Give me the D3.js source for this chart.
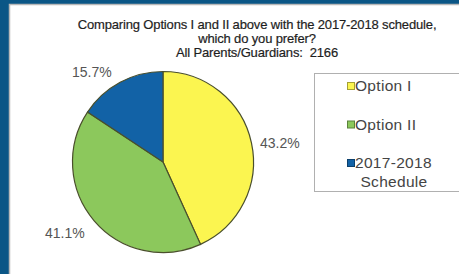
<!DOCTYPE html>
<html>
<head>
<meta charset="utf-8">
<script src="https://cdn.jsdelivr.net/npm/d3@7"></script>
<style>
  body { margin: 0; background: #0b5686; }
  svg { display: block; }
  text { white-space: pre; }
</style>
</head>
<body>
<div id="chart"></div>
<script>
// chart data
var categories = ["Option I", "Option II", "2017-2018 Schedule"];
var legendLines = [["Option I"], ["Option II"], ["2017-2018", "Schedule"]];
var values = [43.2, 41.1, 15.7];
var sliceLabels = ["43.2%", "41.1%", "15.7%"];
var colours = ["#fbf550", "#8cc85c", "#1262a6"];
var titleLines = [
  "Comparing Options I and II above with the 2017-2018 schedule,",
  "which do you prefer?",
  "All Parents/Guardians:  2166"
];

var width = 459, height = 274;

var svg = d3.select("#chart").append("svg")
  .attr("width", width)
  .attr("height", height);

// white chart panel inside the dark blue frame
svg.append("rect")
  .attr("x", 0).attr("y", 0)
  .attr("width", width).attr("height", height)
  .attr("fill", "#0b5686");
svg.append("rect")
  .attr("x", 9.5).attr("y", 4.5)
  .attr("width", width).attr("height", height)
  .attr("fill", "#ffffff")
  .attr("stroke", "#b8b8b8")
  .attr("stroke-width", 1.5);

// title
svg.append("g")
  .selectAll("text")
  .data(titleLines)
  .enter()
  .append("text")
  .attr("x", 257)
  .attr("y", function(d, i) { return 29 + i * 14; })
  .attr("text-anchor", "middle")
  .attr("font-family", "Liberation Sans, Arial, sans-serif")
  .attr("font-size", 13)
  .attr("fill", "#1e1e1e")
  .attr("letter-spacing", -0.15)
  .attr("stroke", "#1e1e1e")
  .attr("stroke-width", 0.2)
  .text(function(d) { return d; });

// pie
var cx = 163, cy = 162, r = 90.5;
var pie = d3.pie().sort(null).value(function(d) { return d; });
var arcs = pie(values);
var arc = d3.arc().innerRadius(0).outerRadius(r);

var g = svg.append("g").attr("transform", "translate(" + cx + "," + cy + ")");
g.selectAll("path")
  .data(arcs)
  .enter()
  .append("path")
  .attr("d", arc)
  .attr("fill", function(d, i) { return colours[i]; })
  .attr("stroke", "#4a4f2c")
  .attr("stroke-width", 1.2);

// percentage labels, placed outside each slice
var labelArc = d3.arc().innerRadius(r + 28).outerRadius(r + 28);
var labelOffsets = [[1, 6], [-8, -6], [-15, 14]];
g.selectAll("text")
  .data(arcs)
  .enter()
  .append("text")
  .attr("x", function(d, i) { return labelArc.centroid(d)[0] + labelOffsets[i][0]; })
  .attr("y", function(d, i) { return labelArc.centroid(d)[1] + labelOffsets[i][1]; })
  .attr("dy", "0.35em")
  .attr("text-anchor", "middle")
  .attr("font-family", "Liberation Sans, Arial, sans-serif")
  .attr("font-size", 14)
  .attr("fill", "#555555")
  .text(function(d, i) { return sliceLabels[i]; });

// legend box
var legend = svg.append("g");
legend.append("rect")
  .attr("x", 314.5).attr("y", 73.5)
  .attr("width", 160).attr("height", 118)
  .attr("fill", "#ffffff")
  .attr("stroke", "#b0b0b0")
  .attr("stroke-width", 1);

var legendY = d3.scalePoint()
  .domain(categories)
  .range([86, 163]);

categories.forEach(function(cat, i) {
  var y = legendY(cat);
  legend.append("rect")
    .attr("x", 347.5).attr("y", y - 3.5)
    .attr("width", 7).attr("height", 7)
    .attr("fill", colours[i])
    .attr("stroke", d3.color(colours[i]).darker(1.2))
    .attr("stroke-width", 1);

  legendLines[i].forEach(function(line, j) {
    legend.append("text")
      .attr("x", j === 0 ? 355 : 394)
      .attr("y", y + j * 19)
      .attr("dy", "0.35em")
      .attr("text-anchor", j === 0 ? "start" : "middle")
      .attr("font-family", "Liberation Sans, Arial, sans-serif")
      .attr("font-size", 15.5)
      .attr("letter-spacing", 0.3)
      .attr("fill", "#444444")
      .text(line);
  });
});
</script>
</body>
</html>
